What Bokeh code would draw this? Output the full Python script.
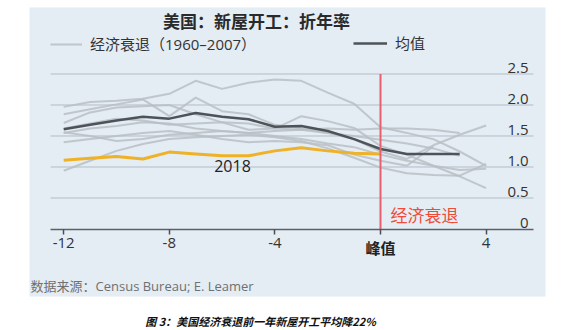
import numpy as np
from bokeh.plotting import figure
from bokeh.models import Range1d, LinearAxis, FixedTicker, BoxAnnotation, Legend, LegendItem, Grid
from bokeh.core.properties import value
from bokeh.embed import file_html
from bokeh.resources import INLINE

# ---------------- data ----------------
months = list(range(-12, 5))

recession_1 = [1.97, 2.05, 2.07, 2.10, 2.18, 2.39, 2.26, 2.36, 2.41, 2.39, 2.20, 2.02, 1.64, 1.55, 1.45, 1.25, 1.02]
recession_2 = [1.85, 1.93, 2.01, 2.09, 1.82, 2.12, 1.90, 1.85, 1.68, 1.62, 1.55, 1.50, 1.44, 1.38, 1.30, 1.18, None]
recession_3 = [1.71, 1.88, 1.96, 1.98, 2.00, 1.85, 1.72, 1.70, 1.62, 1.60, 1.55, 1.45, 1.25, 1.13, 1.35, 1.52, 1.67]
recession_4 = [1.56, 1.50, 1.42, 1.45, 1.52, 1.55, 1.58, 1.55, 1.58, 1.60, 1.62, 1.60, 1.62, 1.62, 1.60, 1.55, None]
recession_5 = [0.94, 1.10, 1.26, 1.37, 1.45, 1.48, 1.50, 1.52, 1.48, 1.42, 1.30, 1.15, 0.99, 0.90, 0.87, 0.86, 1.05]
recession_6 = [1.55, 1.62, 1.66, 1.72, 1.70, 1.62, 1.58, 1.55, 1.50, 1.45, 1.38, 1.32, 1.20, 1.10, 1.02, 0.95, 0.97]
recession_7 = [1.40, 1.45, 1.50, 1.55, 1.58, 1.52, 1.45, 1.40, 1.42, 1.40, 1.35, 1.20, 1.10, 1.02, 1.33, None, None]
recession_8 = [1.62, 1.70, 1.78, 1.75, 1.68, 1.70, 1.72, 1.60, 1.62, 1.82, 1.74, 1.63, 1.34, 1.20, 1.02, 0.85, 0.66]
recessions = [recession_1, recession_2, recession_3, recession_4,
              recession_5, recession_6, recession_7, recession_8]

mean_vals = [1.61, 1.68, 1.75, 1.81, 1.78, 1.87, 1.81, 1.77, 1.65, 1.66, 1.58, 1.45, 1.29, 1.21, 1.21, 1.21, None]
y2018 = [1.11, 1.14, 1.17, 1.13, 1.24, 1.21, 1.18, 1.18, 1.26, 1.31, 1.26, 1.22, 1.21, None, None, None, None]

x_ticks = [-12, -8, -4, 0, 4]
x_tick_labels = ["-12", "-8", "-4", "", "4"]
peak_month = 0
peak_label = "峰值"
y_ticks = [0, 0.5, 1.0, 1.5, 2.0, 2.5]
y_tick_labels = ["0", "0.5", "1.0", "1.5", "2.0", "2.5"]

title_text = "美国：新屋开工：折年率"
legend_rec = "经济衰退（1960–2007）"
legend_mean = "均值"
label_2018 = "2018"
label_recession = "经济衰退"
source_text = "数据来源：Census Bureau; E. Leamer"
caption_text = "图 3：美国经济衰退前一年新屋开工平均降22%"

# ---------------- layout helpers ----------------
W, H = 573, 330
PX_PER_MONTH = 26.4
PX_PER_UNIT = 62.0
X0_PX = 380.0
Y0_PX = 228.5


def px2x(px):
    return (px - X0_PX) / PX_PER_MONTH


def px2y(py):
    return (Y0_PX - py) / PX_PER_UNIT


def arr(v):
    return np.array([np.nan if a is None else a for a in v], dtype=float)


LATIN = "Open Sans"
CJK = "Noto Sans CJK SC"
MIX = "Open Sans, Noto Sans CJK SC"

p = figure(width=W, height=H,
           x_range=Range1d(px2x(0), px2x(W)), y_range=Range1d(px2y(H), px2y(0)),
           min_border=0, x_axis_location=None, y_axis_location=None,
           toolbar_location=None, output_backend="svg",
           outline_line_color=None, background_fill_color="white",
           border_fill_color="white")
for r in list(p.center):
    if isinstance(r, Grid):
        r.visible = False

# light-blue panel
p.add_layout(BoxAnnotation(left=px2x(29), right=px2x(545), top=px2y(7), bottom=px2y(296),
                           fill_color="#e4ecf4", fill_alpha=1.0, line_color=None,
                           level="underlay"))

# horizontal gridlines
gl = y_ticks[1:]
p.segment(x0=[px2x(50)] * len(gl), y0=gl, x1=[px2x(533)] * len(gl), y1=gl,
          line_color="#b3bcc5", line_width=1)

# recession lines
rec_renderers = []
for r in recessions:
    rr = p.line(months, arr(r), line_color="#b9bfc4", line_width=2, line_alpha=0.85)
    rec_renderers.append(rr)

r_mean = p.line(months, arr(mean_vals), line_color="#4d5358", line_width=2.5)
p.line(months, arr(y2018), line_color="#efb125", line_width=3)

# recession start marker
p.segment(x0=[peak_month], y0=[y_ticks[0]], x1=[peak_month], y1=[y_ticks[-1]],
          line_color="#e8606e", line_width=2)

# x axis
xaxis = LinearAxis(fixed_location=0, bounds=(px2x(50), px2x(533)),
                   ticker=FixedTicker(ticks=x_ticks),
                   major_label_overrides=dict(zip(x_ticks, x_tick_labels)),
                   axis_line_color="#5b6166", axis_line_width=1.5,
                   major_tick_out=5, major_tick_in=0,
                   major_tick_line_color="#4a4f54", major_tick_line_width=1.5,
                   minor_tick_line_color=None,
                   major_label_text_font=LATIN, major_label_text_font_size="15px",
                   major_label_text_color="#333333", major_label_standoff=4)
p.add_layout(xaxis, "below")

p.text(x=[peak_month], y=[px2y(247)], text=[peak_label], text_align="center",
       text_baseline="middle", text_font=value(CJK), text_font_size="15px",
       text_font_style="bold", text_color="#222222")

# y tick labels
p.text(x=[px2x(528)] * len(y_ticks), y=y_ticks, text=y_tick_labels,
       text_align="right", text_baseline="bottom", text_font=value(LATIN),
       text_font_size="15px", text_color="#333333", y_offset=-1)

# annotations
p.text(x=[px2x(232)], y=[px2y(165)], text=[label_2018], text_align="center",
       text_baseline="middle", text_font=value(LATIN), text_font_size="16px",
       text_color="#222222")
p.text(x=[px2x(390)], y=[px2y(214)], text=[label_recession], text_align="left",
       text_baseline="middle", text_font=value(CJK), text_font_size="17px",
       text_color="#ef4b36")

# title
p.text(x=[px2x(256)], y=[px2y(20)], text=[title_text], text_align="center",
       text_baseline="middle", text_font=value(CJK), text_font_size="17px",
       text_font_style="bold", text_color="#2a2a2a")

# legends
leg1 = Legend(items=[LegendItem(label=legend_rec, renderers=[rec_renderers[0]])],
              location=(50, H - 54), orientation="horizontal",
              glyph_width=32, glyph_height=20, label_standoff=8,
              padding=0, margin=0, border_line_alpha=0, background_fill_alpha=0,
              label_text_font=MIX, label_text_font_size="15px",
              label_text_color="#333333")
leg2 = Legend(items=[LegendItem(label=legend_mean, renderers=[r_mean])],
              location=(353, H - 53), orientation="horizontal",
              glyph_width=34, glyph_height=20, label_standoff=8,
              padding=0, margin=0, border_line_alpha=0, background_fill_alpha=0,
              label_text_font=MIX, label_text_font_size="15px",
              label_text_color="#333333")
p.add_layout(leg1, "center")
p.add_layout(leg2, "center")

# source & caption
p.text(x=[px2x(30)], y=[px2y(285)], text=[source_text], text_align="left",
       text_baseline="middle", text_font=value(MIX), text_font_size="13px",
       text_color="#707070")
p.text(x=[px2x(260)], y=[px2y(320)], text=[caption_text], text_align="center",
       text_baseline="middle", text_font=value(CJK), text_font_size="11px",
       text_font_style="bold italic", text_color="#111111")

open("out.html", "w").write(file_html(p, INLINE))
